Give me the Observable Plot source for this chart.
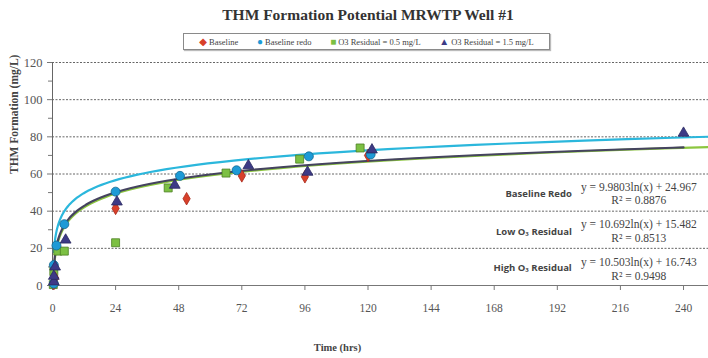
<!DOCTYPE html>
<html><head><meta charset="utf-8">
<script src="https://cdn.jsdelivr.net/npm/d3@7"></script>
<script src="https://cdn.jsdelivr.net/npm/@observablehq/plot@0.6"></script>
<style>
body{margin:0;background:#fff;}
#wrap{position:relative;width:708px;height:358px;overflow:hidden;font-family:"Liberation Serif","DejaVu Serif",serif;}
#title{position:absolute;left:0;width:736px;top:6px;text-align:center;font-weight:bold;font-size:15.5px;color:#333;}
#legend{position:absolute;left:183px;top:33px;width:367px;height:17px;border:1px solid #8a8a8a;box-shadow:1px 1px 1px #bbb;display:flex;align-items:center;justify-content:space-around;font-size:8.5px;color:#444;box-sizing:border-box;padding:0 6px;}
#legend span.m{font-size:10px;margin-right:2px;}
#chart{position:absolute;left:0;top:52px;}
</style></head>
<body><div id="wrap">
<div id="title">THM Formation Potential MRWTP Well #1</div>
<div id="legend"></div>
<div id="chart"></div>
</div>
<script>
// ---- data ----
const seriesNames = ["Baseline", "Baseline redo", "O3 Residual = 0.5 mg/L", "O3 Residual = 1.5 mg/L"];
const baselineT = [0.5, 1, 24, 51, 72, 96, 120];
const baselineV = [1, 4, 41.5, 46.7, 59, 58.5, 70];
const redoT = [0.5, 0.5, 1.5, 4.5, 24, 48.5, 70, 97.5, 121];
const redoV = [1, 11, 21.5, 33, 50.5, 59, 62, 69.5, 70.5];
const lowT = [0.3, 0.5, 2, 4.5, 24, 44, 66, 94, 117];
const lowV = [0.5, 7.5, 18.5, 18.5, 23, 52.5, 60.5, 68, 74];
const highT = [0.5, 0.5, 1, 5, 24.5, 46.5, 74.5, 97, 121.5, 240];
const highV = [2, 5, 10, 24.5, 45, 54, 64.5, 61, 73, 82];

// trendline coefficients (y = a ln(x) + b) as printed on the chart
const fitNames = ["Baseline Redo", "Low O₃ Residual", "High O₃ Residual"];
const fitA = [9.9803, 10.692, 10.503];
const fitB = [24.967, 15.482, 16.743];
const fitR2 = ["0.8876", "0.8513", "0.9498"];
const fitEnd = [249.5, 249.5, 240];

const xTicks = [0, 24, 48, 72, 96, 120, 144, 168, 192, 216, 240];
const yTicks = [0, 20, 40, 60, 80, 100, 120];
const yMinor = [10, 30, 50, 70, 90, 110];

// annotation anchor positions (data units)
const labelX = 197.5, eqX = 223;
const labelY = [49, 29, 9.7];
const eqY = [52.8, 32.8, 12.6];
const r2Y = [45.6, 25.4, 4.9];

const colors = {base:"#d8402a", redo:"#1d9ad6", low:"#7cc043", high:"#3d3a86"};
const strokes = {base:"#a8281a", redo:"#14688f", low:"#4b7f22", high:"#2a2860"};
const SERIF = "Liberation Serif, DejaVu Serif, serif";

const toRows = (T, V) => T.map((t, i) => ({t, v: V[i]}));

function curve(k) {
  const xs = [];
  for (let x = 0.5; x < fitEnd[k]; x *= 1.08) xs.push(x);
  xs.push(fitEnd[k]);
  return xs.map(x => ({t: x, v: fitA[k] * Math.log(x) + fitB[k]}));
}

// legend
const leg = document.getElementById("legend");
const legSym = [["◆", colors.base], ["●", colors.redo], ["■", colors.low], ["▲", colors.high]];
seriesNames.forEach((n, i) => {
  const s = document.createElement("span");
  s.innerHTML = `<span class="m" style="color:${legSym[i][1]}">${legSym[i][0]}</span>${n}`;
  leg.appendChild(s);
});

const eqText = (k) => `y = ${fitA[k]}ln(x) + ${fitB[k]}`;
const annRows = fitNames.map((n, i) => ({n, i}));

const plot = Plot.plot({
  width: 708, height: 306,
  marginTop: 10, marginBottom: 73, marginLeft: 52, marginRight: 0,
  style: {fontFamily: SERIF, background: "transparent"},
  x: {type: "linear", domain: [0, 249.5]},
  y: {type: "linear", domain: [0, 120]},
  marks: [
    Plot.ruleY(yTicks.slice(1), {stroke: "#666", strokeDasharray: "2,1.5", strokeWidth: 1}),
    Plot.ruleY([0], {stroke: "#777", strokeWidth: 1}),
    Plot.ruleX([0], {stroke: "#666", strokeWidth: 1}),
    Plot.axisY({ticks: yMinor, tickSize: 4, tickFormat: () => "", stroke: "#777", label: null}),
    Plot.axisY({ticks: yTicks, tickSize: 5, tickPadding: 5, label: null, fontSize: 12.5, fontFamily: SERIF, fill: "#555", stroke: "#777", tickFormat: d => d}),
    Plot.axisX({ticks: xTicks, tickSize: 5, tickPadding: 13, label: null, fontSize: 11.5, fontFamily: SERIF, fill: "#555", stroke: "#777", tickFormat: d => d}),
    Plot.text(["THM Formation (mg/L)"], {frameAnchor: "left", dx: -38, rotate: -90, fontWeight: "bold", fontSize: 11.5, fontFamily: SERIF, fill: "#444"}),
    Plot.text(["Time (hrs)"], {frameAnchor: "bottom", dy: 65, dx: -43, fontWeight: "bold", fontSize: 10.5, fontFamily: SERIF, fill: "#444"}),
    // trend lines
    Plot.line(curve(1), {x: "t", y: "v", stroke: "#8cc63f", strokeWidth: 2.2}),
    Plot.line(curve(2), {x: "t", y: "v", stroke: "#45435f", strokeWidth: 2.2}),
    Plot.line(curve(0), {x: "t", y: "v", stroke: "#2bb7dc", strokeWidth: 2.2}),
    // data points
    Plot.dot(toRows(lowT, lowV), {x: "t", y: "v", symbol: "square", r: 4.5, fill: colors.low, stroke: strokes.low, strokeWidth: 0.8}),
    Plot.dot(toRows(baselineT, baselineV), {x: "t", y: "v", symbol: "diamond", r: 3.8, fill: colors.base, stroke: strokes.base, strokeWidth: 0.8}),
    Plot.dot(toRows(redoT, redoV), {x: "t", y: "v", symbol: "circle", r: 4.5, fill: colors.redo, stroke: strokes.redo, strokeWidth: 0.8}),
    Plot.dot(toRows(highT, highV), {x: "t", y: "v", symbol: "triangle", r: 4, fill: colors.high, stroke: strokes.high, strokeWidth: 0.8}),
    // annotations
    Plot.text(annRows, {x: () => labelX, y: d => labelY[d.i], text: d => d.n, textAnchor: "end", fontFamily: "Open Sans, sans-serif", fontWeight: "bold", fontSize: 9.5, fill: "#444"}),
    Plot.text(annRows, {x: () => eqX, y: d => eqY[d.i], text: d => eqText(d.i), fontSize: 11.5, fontFamily: SERIF, fill: "#444"}),
    Plot.text(annRows, {x: () => eqX, y: d => r2Y[d.i], text: d => `R² = ${fitR2[d.i]}`, fontSize: 11.5, fontFamily: SERIF, fill: "#444"})
  ]
});
d3.select(plot).selectAll("g[aria-label*='tick label'], g[aria-label*='tick label'] text")
  .style("font-family", SERIF).style("font-variant", "normal");
document.getElementById("chart").appendChild(plot);
</script>
</body></html>
